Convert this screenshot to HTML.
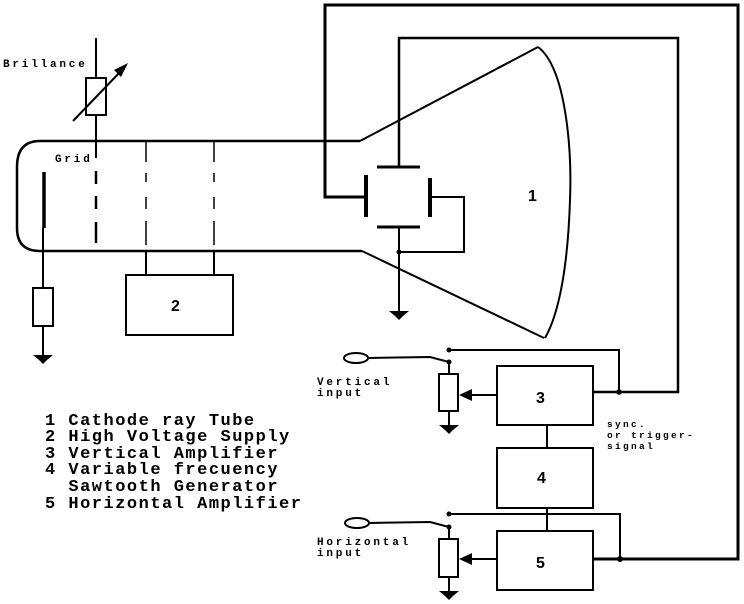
<!DOCTYPE html>
<html>
<head>
<meta charset="utf-8">
<style>
html,body{margin:0;padding:0;background:#fff;}
svg{display:block;}
.s{font-family:"Liberation Mono",monospace;font-weight:bold;font-size:11px;letter-spacing:2.8px;fill:#000;}
.t{font-family:"Liberation Mono",monospace;font-weight:bold;font-size:9.5px;letter-spacing:2.3px;fill:#000;}
.lg{font-family:"Liberation Mono",monospace;font-weight:bold;font-size:17px;letter-spacing:1.5px;fill:#000;white-space:pre;}
.n{font-family:"Liberation Sans",sans-serif;font-weight:bold;font-size:16px;fill:#000;}
</style>
</head>
<body>
<svg width="744" height="604" viewBox="0 0 744 604" xmlns="http://www.w3.org/2000/svg">
<rect width="744" height="604" fill="#fff"/>
<g fill="none" stroke="#000" stroke-width="2">
  <path d="M360 141 L40 141 Q17 141 17 167 L17 228 Q17 251 40 251 L362 251" stroke-width="2.5"/>
  <path d="M360 141 L538 47"/>
  <path d="M362 251 L544 338"/>
  <path d="M538 47 C566 68, 572 150, 570 200 C568 262, 560 312, 545 338"/>

  <line x1="96" y1="38" x2="96" y2="78"/>
  <rect x="86" y="78" width="20" height="37"/>
  <line x1="96" y1="115" x2="96" y2="158"/>
  <line x1="73" y1="121" x2="122" y2="70"/>
  <line x1="96" y1="171" x2="96" y2="184" stroke-width="2.5"/>
  <line x1="96" y1="196" x2="96" y2="209" stroke-width="2.5"/>
  <line x1="96" y1="222" x2="96" y2="243" stroke-width="2.5"/>

  <line x1="146" y1="141" x2="146" y2="162" stroke-width="1.5"/>
  <line x1="146" y1="173" x2="146" y2="182" stroke-width="1.5"/>
  <line x1="146" y1="197" x2="146" y2="209" stroke-width="1.5"/>
  <line x1="146" y1="221" x2="146" y2="245" stroke-width="1.5"/>
  <line x1="214" y1="141" x2="214" y2="162" stroke-width="1.5"/>
  <line x1="214" y1="173" x2="214" y2="182" stroke-width="1.5"/>
  <line x1="214" y1="197" x2="214" y2="209" stroke-width="1.5"/>
  <line x1="214" y1="221" x2="214" y2="245" stroke-width="1.5"/>
  <line x1="146" y1="251" x2="146" y2="275"/>
  <line x1="214" y1="251" x2="214" y2="275"/>
  <rect x="126" y="275" width="107" height="60"/>

  <line x1="44" y1="172" x2="44" y2="228" stroke-width="3.5"/>
  <line x1="43" y1="228" x2="43" y2="288"/>
  <rect x="33" y="288" width="20" height="38"/>
  <line x1="43" y1="326" x2="43" y2="356"/>

  <line x1="366" y1="175" x2="366" y2="217" stroke-width="4"/>
  <line x1="430" y1="178" x2="430" y2="217" stroke-width="4"/>
  <line x1="377" y1="167" x2="420" y2="167" stroke-width="3"/>
  <line x1="377" y1="227" x2="420" y2="227" stroke-width="3"/>
  <polyline points="366,197 325,197 325,5 738,5 738,559 593,559" stroke-width="3"/>
  <polyline points="399,167 399,38 678,38 678,392 593,392" stroke-width="2.5"/>
  <polyline points="430,197 464,197 464,252 399,252"/>
  <line x1="399" y1="227" x2="399" y2="312"/>

  <ellipse cx="356" cy="358" rx="12" ry="5"/>
  <polyline points="368,358 430,357 449,362"/>
  <polyline points="449,350 619,350 619,392"/>
  <line x1="449" y1="362" x2="449" y2="374"/>
  <rect x="439" y="374" width="19" height="37"/>
  <line x1="449" y1="411" x2="449" y2="426"/>
  <line x1="497" y1="395" x2="468" y2="395"/>
  <rect x="497" y="366" width="96" height="59"/>
  <line x1="547" y1="425" x2="547" y2="448"/>
  <rect x="497" y="448" width="96" height="60"/>
  <line x1="547" y1="508" x2="547" y2="531"/>
  <polyline points="449,514 620,514 620,559"/>

  <ellipse cx="357" cy="523" rx="12" ry="5"/>
  <polyline points="369,523 430,522 449,527"/>
  <line x1="449" y1="527" x2="449" y2="539"/>
  <rect x="439" y="539" width="19" height="38"/>
  <line x1="449" y1="577" x2="449" y2="592"/>
  <line x1="497" y1="559" x2="468" y2="559"/>
  <rect x="497" y="531" width="96" height="59"/>
</g>

<g fill="#000" stroke="none">
  <polygon points="128,63 114,70 121,77"/>
  <polygon points="33,355 53,355 47,360 43,364 39,360"/>
  <polygon points="389,311 409,311 403,316 399,320 395,316"/>
  <polygon points="439,425 459,425 453,430 449,434 445,430"/>
  <polygon points="439,591 459,591 453,596 449,600 445,596"/>
  <polygon points="459,395 472,389 472,401"/>
  <polygon points="459,559 472,553 472,565"/>
  <circle cx="399" cy="252" r="2.5"/>
  <circle cx="449" cy="350" r="2.5"/>
  <circle cx="449" cy="362" r="2.5"/>
  <circle cx="619" cy="392" r="2.8"/>
  <circle cx="449" cy="514" r="2.5"/>
  <circle cx="449" cy="527" r="2.5"/>
  <circle cx="620" cy="559" r="3"/>
</g>

<text class="s" x="3" y="67">Brillance</text>
<text class="s" x="55" y="162">Grid</text>
<text class="s" x="317" y="385">Vertical</text>
<text class="s" x="317" y="396">input</text>
<text class="s" x="317" y="545">Horizontal</text>
<text class="s" x="317" y="556">input</text>
<text class="t" x="607" y="427">sync.</text>
<text class="t" x="607" y="438">or trigger-</text>
<text class="t" x="607" y="449">signal</text>

<text class="n" x="528" y="201">1</text>
<text class="n" x="171" y="311">2</text>
<text class="n" x="536" y="403">3</text>
<text class="n" x="537" y="483">4</text>
<text class="n" x="536" y="568">5</text>

<text class="lg" x="45" y="425">1 Cathode ray Tube</text>
<text class="lg" x="45" y="441">2 High Voltage Supply</text>
<text class="lg" x="45" y="458">3 Vertical Amplifier</text>
<text class="lg" x="45" y="474">4 Variable frecuency</text>
<text class="lg" x="45" y="491">  Sawtooth Generator</text>
<text class="lg" x="45" y="508">5 Horizontal Amplifier</text>
</svg>
</body>
</html>
